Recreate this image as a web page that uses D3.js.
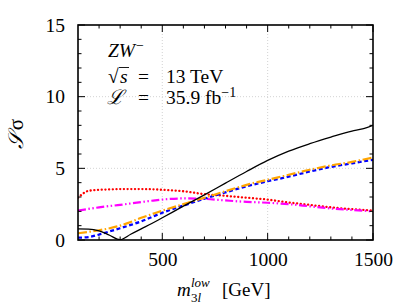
<!DOCTYPE html>
<html>
<head>
<meta charset="utf-8">
<title>ZW- significance</title>
<style>
  body { margin: 0; background: #fff; }
</style>
</head>
<body>
<svg width="411" height="307"></svg>
<script src="https://cdnjs.cloudflare.com/ajax/libs/d3/7.8.5/d3.min.js"></script>
<script>

// mass points (GeV)
let mass = [100, 150, 200, 250, 300, 350, 400, 450, 500, 600, 700, 800, 900, 1000, 1100, 1200, 1300, 1400, 1450, 1500];

let blackVals   = [0.77, 0.76, 0.64, 0.33, 0.02, 0.40, 0.78, 1.15, 1.55, 2.36, 3.15, 3.97, 4.78, 5.55, 6.2, 6.72, 7.18, 7.6, 7.75, 8.0];
let redVals     = [2.95, 3.43, 3.5, 3.53, 3.55, 3.55, 3.55, 3.54, 3.5, 3.4, 3.2, 3.08, 2.95, 2.82, 2.62, 2.45, 2.28, 2.15, 2.1, 2.05];
let magentaVals = [2.05, 2.17, 2.28, 2.37, 2.45, 2.55, 2.65, 2.74, 2.82, 2.9, 2.87, 2.76, 2.66, 2.6, 2.5, 2.35, 2.2, 2.1, 2.05, 2.0];
let orangeVals  = [0.47, 0.57, 0.68, 0.82, 1.0, 1.25, 1.55, 1.8, 2.05, 2.5, 2.95, 3.4, 3.85, 4.2, 4.55, 4.9, 5.2, 5.45, 5.6, 5.75];
let blueVals    = [0.16, 0.2, 0.38, 0.6, 0.82, 1.05, 1.3, 1.6, 1.9, 2.4, 2.88, 3.32, 3.75, 4.1, 4.42, 4.78, 5.1, 5.35, 5.48, 5.6];

let xTicks = [500, 1000, 1500];
let yTicks = [0, 5, 10, 15];

let series = [
  { vals: redVals,     color: "#ff0000", width: 2.3, dash: "0.1,3.6", cap: "round" },
  { vals: magentaVals, color: "#ff00ff", width: 2.2, dash: "8,2.5,1.5,2.5,1.5,2.5", cap: "butt" },
  { vals: blueVals,    color: "#0000ff", width: 2.3, dash: "4,2.6", cap: "butt" },
  { vals: orangeVals,  color: "#ffa500", width: 2.2, dash: "9,2.5,1.5,2.5", cap: "butt" },
  { vals: blackVals,   color: "#000000", width: 1.3, dash: null, cap: "butt" }
];

let serif = "Liberation Serif";
let pLeft = 78, pRight = 373, pTop = 25, pBottom = 240;

let svg = d3.select("svg").attr("font-family", serif);

let x = d3.scaleLinear().domain([100, 1500]).range([pLeft, pRight]);
let y = d3.scaleLinear().domain([0, 15]).range([pBottom, pTop]);

// grid
let grid = svg.append("g").attr("stroke", "#c8c8c8").attr("stroke-width", 0.8).attr("stroke-dasharray", "1,2");
grid.selectAll(".gx").data([500, 1000]).enter().append("line")
  .attr("x1", d => x(d)).attr("x2", d => x(d)).attr("y1", pTop).attr("y2", pBottom);
grid.selectAll(".gy").data([5, 10]).enter().append("line")
  .attr("x1", pLeft).attr("x2", pRight).attr("y1", d => y(d)).attr("y2", d => y(d));

// curves
let line = d3.line()
  .x((d, i) => x(mass[i]))
  .y(d => y(d))
  .curve(d3.curveMonotoneX);

svg.append("clipPath").attr("id", "clip").append("rect")
  .attr("x", pLeft).attr("y", pTop).attr("width", pRight - pLeft).attr("height", pBottom - pTop);

svg.append("g").attr("clip-path", "url(#clip)")
  .selectAll("path").data(series).enter().append("path")
  .attr("d", d => line(d.vals))
  .attr("fill", "none")
  .attr("stroke", d => d.color)
  .attr("stroke-width", d => d.width)
  .attr("stroke-dasharray", d => d.dash)
  .attr("stroke-linecap", d => d.cap);

// inward ticks on all four sides
let xMinor = d3.range(200, 1500, 100);
let yMinor = d3.range(1, 15, 1);

let ticks = svg.append("g").attr("stroke", "#000").attr("stroke-width", 1);
function addTicks(vals, len, horizontal) {
  vals.forEach(function(v) {
    if (horizontal) {
      ticks.append("line").attr("x1", x(v)).attr("x2", x(v)).attr("y1", pBottom).attr("y2", pBottom - len);
      ticks.append("line").attr("x1", x(v)).attr("x2", x(v)).attr("y1", pTop).attr("y2", pTop + len);
    } else {
      ticks.append("line").attr("y1", y(v)).attr("y2", y(v)).attr("x1", pLeft).attr("x2", pLeft + len);
      ticks.append("line").attr("y1", y(v)).attr("y2", y(v)).attr("x1", pRight).attr("x2", pRight - len);
    }
  });
}
addTicks(xTicks, 7, true);
addTicks(xMinor.filter(v => xTicks.indexOf(v) < 0), 3.5, true);
addTicks(yTicks, 7, false);
addTicks(yMinor.filter(v => yTicks.indexOf(v) < 0), 3.5, false);

// tick labels
svg.append("g")
  .attr("transform", "translate(0," + pBottom + ")")
  .call(d3.axisBottom(x).tickValues(xTicks).tickFormat(d3.format("d")).tickSize(0).tickPadding(12))
  .call(g => g.select(".domain").remove())
  .attr("font-size", 19.5)
  .selectAll("text").attr("fill", "#000");

svg.append("g")
  .attr("transform", "translate(" + pLeft + ",0)")
  .call(d3.axisLeft(y).tickValues(yTicks).tickSize(0).tickPadding(13))
  .call(g => g.select(".domain").remove())
  .attr("font-size", 19.5)
  .selectAll("text").attr("fill", "#000");

// frame
svg.append("rect").attr("x", pLeft).attr("y", pTop).attr("width", pRight - pLeft).attr("height", pBottom - pTop)
  .attr("fill", "none").attr("stroke", "#000").attr("stroke-width", 1.6);

// annotation, spaced like the LaTeX original
let ann = svg.append("g").attr("font-size", 19.5);
let t1 = ann.append("text").attr("y", 57);
t1.append("tspan").attr("x", 108).attr("font-style", "italic").text("ZW");
t1.append("tspan").attr("dx", 1).attr("dy", -7).attr("font-size", 14).text("\u2212");

let t2 = ann.append("text").attr("y", 83);
t2.append("tspan").attr("x", 108).text("\u221A");
t2.append("tspan").attr("x", 120).attr("font-style", "italic").text("s");
t2.append("tspan").attr("x", 138).text("=");
t2.append("tspan").attr("x", 166).text("13 TeV");
ann.append("line").attr("x1", 119).attr("x2", 129).attr("y1", 67.5).attr("y2", 67.5)
  .attr("stroke", "#000").attr("stroke-width", 0.9);

let t3 = ann.append("text").attr("y", 104);
t3.append("tspan").attr("x", 107).attr("font-style", "italic").attr("font-size", 20).text("\u2112");
t3.append("tspan").attr("x", 138).text("=");
t3.append("tspan").attr("x", 166).text("35.9 fb");
t3.append("tspan").attr("dy", -7).attr("font-size", 14).text("\u22121");

// y label
svg.append("text")
  .attr("transform", "translate(23,134) rotate(-90)")
  .attr("text-anchor", "middle")
  .attr("font-size", 21)
  .html('<tspan font-style="italic">\u{1D4AE}</tspan><tspan dx="3">\u03C3</tspan>');

// x label
let xl = svg.append("text").attr("y", 296).attr("font-size", 19);
xl.append("tspan").attr("x", 177).attr("font-style", "italic").text("m");
xl.append("tspan").attr("x", 191).attr("font-style", "italic").attr("font-size", 13).attr("y", 287).text("low");
xl.append("tspan").attr("x", 191).attr("font-size", 13).attr("y", 302).text("3");
xl.append("tspan").attr("font-style", "italic").attr("font-size", 13).text("l");
xl.append("tspan").attr("x", 222).attr("y", 296).text("[GeV]");

svg.selectAll("text").attr("font-family", serif);

</script>
</body>
</html>
